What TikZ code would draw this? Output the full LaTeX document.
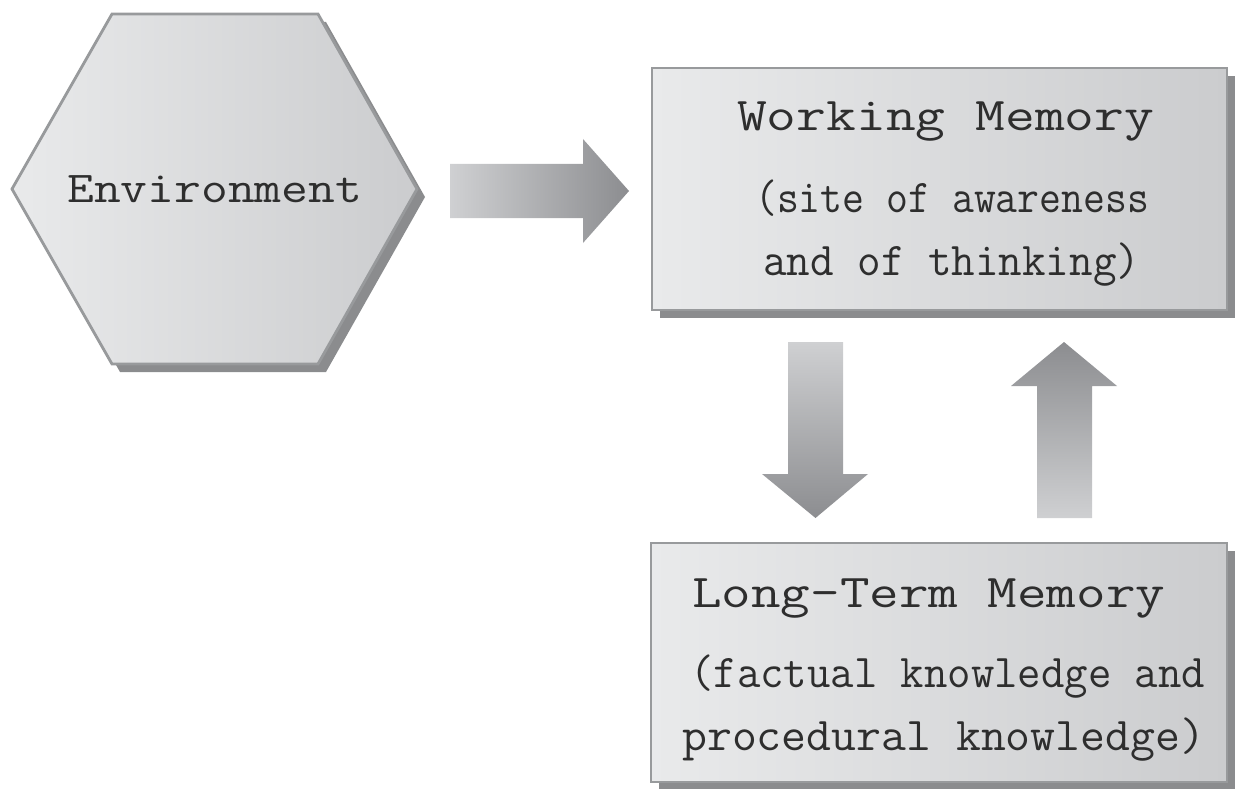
\documentclass[tikz,border=0pt]{standalone}
\usepackage{fontspec}
\usetikzlibrary{shadows}

\definecolor{boxlight}{HTML}{E9EAEB}
\definecolor{boxdark}{HTML}{CBCCCE}
\definecolor{edgegray}{HTML}{989A9C}
\definecolor{shadowgray}{HTML}{8B8C8E}
\definecolor{arrowlight}{HTML}{CFD0D2}
\definecolor{arrowdark}{HTML}{8C8D90}
\definecolor{inkgray}{HTML}{2E2E2E}

% set a line of text and stretch it to a given width, keeping its height
\newcommand\fitline[2]{\resizebox{#1}{\height}{#2}}

\begin{document}
\begin{tikzpicture}[x=1pt,y=-1pt,
  membox/.style={draw=edgegray, line width=2.8pt, left color=boxlight, right color=boxdark,
    inner sep=0pt, drop shadow={shadow xshift=8pt, shadow yshift=-8pt, fill=shadowgray, opacity=1}},
  label/.style={anchor=base west, inner sep=0pt, text=inkgray, font=\ttfamily\fontsize{47}{56}\selectfont},
  blockarrow/.style={draw=none}]
\useasboundingbox (0,0) rectangle (1237,789);

% environment hexagon with its shadow
\fill[shadowgray, shift={(8,8)}] (12,189) -- (112,14) -- (318,14) -- (417,189) -- (318,364) -- (112,364) -- cycle;
\shade[left color=boxlight, right color=boxdark, draw=edgegray, line width=2.8pt]
  (12,189) -- (112,14) -- (318,14) -- (417,189) -- (318,364) -- (112,364) -- cycle;
\node[label, font=\ttfamily\fontsize{44}{52}\selectfont] (env) at (67,202) {\fitline{295pt}{Environment}};

% memory boxes
\node[membox, minimum width=575pt, minimum height=242pt] (wm) at (939.5,189) {};
\node[membox, minimum width=576pt, minimum height=239pt] (ltm) at (939,662.5) {};

\node[label] (wmtitle) at (737,131) {\fitline{417pt}{Working Memory}};
\node[label] (wmline1) at (755,212) {\fitline{394pt}{(site of awareness}};
\node[label] (wmline2) at (763,275) {\fitline{377pt}{and of thinking)}};

\node[label] (ltmtitle) at (692,607) {\fitline{473pt}{Long-Term Memory}};
\node[label] (ltmline1) at (690,687) {\fitline{515pt}{(factual knowledge and}};
\node[label] (ltmline2) at (682,750) {\fitline{523pt}{procedural knowledge)}};

% block arrows
\shade[blockarrow, left color=arrowlight, right color=arrowdark]
  (450,164) -- (583,164) -- (583,139) -- (629,191) -- (583,243) -- (583,218) -- (450,218) -- cycle;
\shade[blockarrow, top color=arrowlight, bottom color=arrowdark]
  (788,342) -- (843,342) -- (843,474) -- (868,474) -- (815.5,518) -- (762,474) -- (788,474) -- cycle;
\shade[blockarrow, top color=arrowdark, bottom color=arrowlight]
  (1037,518) -- (1037,386) -- (1011,386) -- (1064,342) -- (1117,386) -- (1092,386) -- (1092,518) -- cycle;
\end{tikzpicture}
\end{document}
